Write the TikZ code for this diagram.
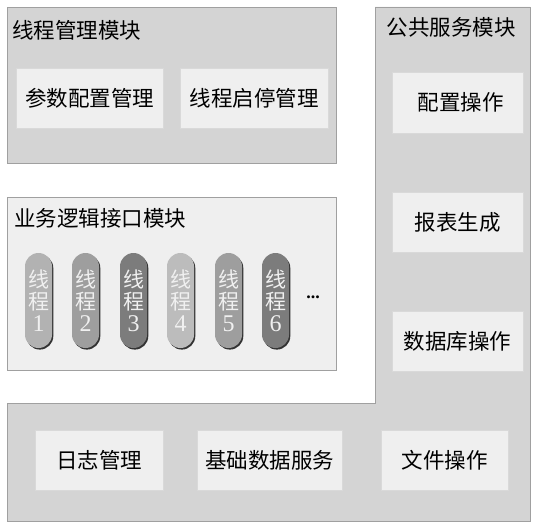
\documentclass[tikz,border=0pt]{standalone}
\usepackage{fontspec}
\setmainfont{Noto Sans CJK SC}
\newfontfamily\numfont{Liberation Serif}
\usetikzlibrary{shadows}
\definecolor{outerg}{HTML}{D4D4D4}
\definecolor{innerg}{HTML}{EFEFEF}
\definecolor{edgeg}{HTML}{A0A0A0}
\definecolor{pillA}{HTML}{B2B2B2}
\definecolor{pillB}{HTML}{9E9E9E}
\definecolor{pillC}{HTML}{7C7C7C}
\definecolor{pillD}{HTML}{BCBCBC}
\tikzset{
  every node/.style={font=\fontsize{21.5}{24}\selectfont, inner sep=0pt},
  shade box/.style={drop shadow={shadow xshift=1.4pt, shadow yshift=-1.4pt, fill=black!85, opacity=1}},
  modbox/.style={fill=outerg, draw=edgeg, line width=0.6pt, shade box},
  litbox/.style={fill=innerg, draw=edgeg, line width=0.6pt, shade box},
  funcbox/.style={fill=innerg, draw=white!85!black, line width=0.6pt, shade box, minimum height=60pt},
  pill/.style={rounded corners=13.5pt, minimum width=27pt, minimum height=95pt, draw=none,
    text=white!94!black, align=center, font=\fontsize{21}{25}\selectfont,
    drop shadow={shadow xshift=1.3pt, shadow yshift=-1.6pt, fill=black!80, opacity=1}},
  title/.style={anchor=west}
}
\newcommand{\pilltext}[1]{线\\[-3pt]程\\[-3pt]{\numfont\fontsize{24}{25}\selectfont #1}}
\begin{document}
\begin{tikzpicture}[x=1pt, y=-1pt]
\useasboundingbox (0,0) rectangle (533,524);
% public service L-shaped module
\path[fill=outerg, draw=edgeg, line width=0.8pt] (7,403) -- (375,403) -- (375,7) -- (530,7) -- (530,521) -- (7,521) -- cycle;
\node (t3) at (451,27) {公共服务模块};
% thread management module
\node[modbox, minimum width=329pt, minimum height=156pt] (tm) at (171.5,85) {};
\node[title] (t1) at (12,30) {线程管理模块};
\node[funcbox, minimum width=147pt] (p1) at (89.5,98) {参数配置管理};
\node[funcbox, minimum width=148pt] (p2) at (254,98) {线程启停管理};
% business logic interface module
\node[litbox, minimum width=329pt, minimum height=173pt] (bl) at (171.5,283.5) {};
\node[title] (t2) at (14,218) {业务逻辑接口模块};
\node[pill, fill=pillA] (h1) at (38.5,300.5) {\pilltext{1}};
\node[pill, fill=pillB] (h2) at (85.5,300.5) {\pilltext{2}};
\node[pill, fill=pillC] (h3) at (133.5,300.5) {\pilltext{3}};
\node[pill, fill=pillD] (h4) at (180.5,300.5) {\pilltext{4}};
\node[pill, fill=pillB] (h5) at (228.5,300.5) {\pilltext{5}};
\node[pill, fill=pillC] (h6) at (275.5,300.5) {\pilltext{6}};
\node[font=\numfont\bfseries\fontsize{18}{18}\selectfont] (dots) at (313,297) {...};
% public service function boxes
\node[funcbox, minimum width=131pt, minimum height=61pt] (r1) at (457.5,102.5) {\hspace{6pt}配置操作};
\node[funcbox, minimum width=131pt] (r2) at (457.5,222) {报表生成};
\node[funcbox, minimum width=131pt] (r3) at (457.5,341) {数据库操作};
\node[funcbox, minimum width=128pt] (b1) at (99,460) {日志管理};
\node[funcbox, minimum width=145pt] (b2) at (269.5,460) {基础数据服务};
\node[funcbox, minimum width=127pt] (b3) at (444.5,460) {文件操作};
\end{tikzpicture}
\end{document}
